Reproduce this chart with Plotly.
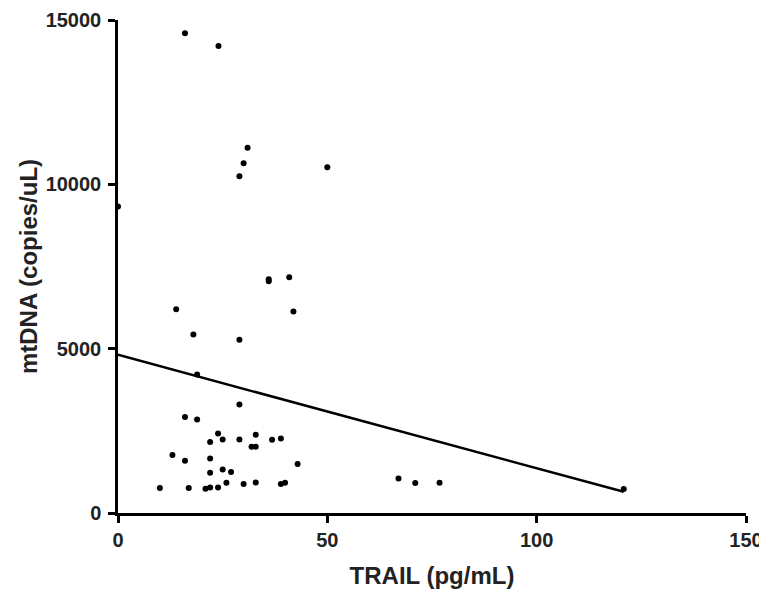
import plotly.graph_objects as go

# TRAIL (pg/mL) values
trail = [16.0, 24.0, 30.95, 30.0, 29.0, 50.0, 0.0, 36.0, 36.0, 40.9,
         13.9, 41.9, 18.0, 29.0, 18.9, 29.0, 16.0, 18.9, 23.9, 25.0,
         22.0, 29.0, 32.9, 31.9, 32.9, 36.8, 38.9, 13.0, 16.0, 22.0,
         42.9, 22.0, 25.0, 27.0, 10.0, 16.9, 20.9, 22.0, 23.9, 25.9,
         30.0, 32.9, 38.9, 39.9, 67.0, 71.0, 76.8, 120.8]
# mtDNA (copies/uL) values
mtdna = [14594, 14208, 11116, 10641, 10246, 10520, 9322, 7110, 7050, 7175,
         6202, 6130, 5431, 5269, 4215, 3302, 2918, 2847, 2421, 2239,
         2158, 2239, 2380, 2016, 2016, 2229, 2269, 1763, 1590, 1661,
         1490, 1225, 1326, 1246, 760, 760, 739, 778, 778, 921,
         882, 930, 882, 921, 1052, 912, 921, 730]

# linear fit parameters
fit_intercept = 4813
fit_slope = -34.5

x_ticks = [0, 50, 100, 150]
y_ticks = [0, 5000, 10000, 15000]

font_family = "Liberation Sans, Arial, sans-serif"

fit_x = [0, max(trail)]
fit_y = [fit_intercept + fit_slope * v for v in fit_x]

fig = go.Figure()
fig.add_trace(go.Scatter(x=fit_x, y=fit_y, mode="lines",
                         line=dict(color="black", width=2.5),
                         showlegend=False, cliponaxis=False))
fig.add_trace(go.Scatter(x=trail, y=mtdna, mode="markers",
                         marker=dict(color="black", size=6),
                         showlegend=False, cliponaxis=False))

axis_common = dict(showgrid=False, zeroline=False, showline=True,
                   linecolor="black", linewidth=2.5, ticks="outside",
                   ticklen=7, tickwidth=2.5, tickcolor="black",
                   tickfont=dict(family=font_family, size=20, color="#222"))

fig.update_xaxes(range=[0, 150], tickvals=x_ticks,
                 ticktext=[f"<b>{t}</b>" for t in x_ticks],
                 title=dict(text="<b>TRAIL (pg/mL)</b>",
                            font=dict(family=font_family, size=24, color="#222"),
                            standoff=18),
                 **axis_common)
fig.update_yaxes(range=[0, 15000], tickvals=y_ticks,
                 ticktext=[f"<b>{t}</b>" for t in y_ticks],
                 ticklabelstandoff=3,
                 title=dict(text="<b>mtDNA (copies/uL)</b>",
                            font=dict(family=font_family, size=24, color="#222"),
                            standoff=2),
                 **axis_common)

# page body has an 8px margin: shrink the figure so it fits the window
fig.update_layout(width=759, height=583,
                  margin=dict(l=110, r=21, t=12, b=78, autoexpand=False),
                  plot_bgcolor="white", paper_bgcolor="white",
                  font=dict(family=font_family))

fig.write_html("out.html")
